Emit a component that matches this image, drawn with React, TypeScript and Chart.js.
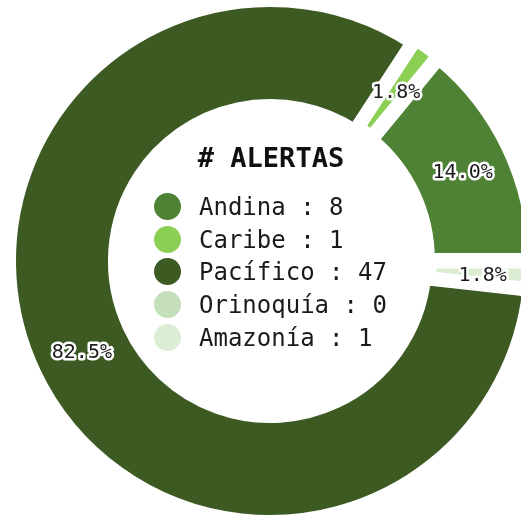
import React, { useEffect, useRef } from 'react';
import { Chart, registerables } from 'chart.js';

Chart.register(...registerables);

const categories = ['Andina', 'Caribe', 'Pacífico', 'Orinoquía', 'Amazonía'];
const alertCounts = [8, 1, 47, 0, 1];
const sliceColors = ['#4e8234', '#8ccf55', '#3c5a22', '#c4dfba', '#dcedd5'];
const sliceOffsets = [10, 10, 0, 10, 10];
const legendTitle = '# ALERTAS';

// slices run counter-clockwise in the picture, so feed them reversed
const drawOrder = [4, 3, 2, 1, 0];

const CX = 270;
const CY = 261;
const SIZE = 560;
const MONO = '"DejaVu Sans Mono", "Liberation Mono", monospace';

const pctLabels = {
  id: 'pctLabels',
  afterDatasetsDraw(chart: any) {
    const meta = chart.getDatasetMeta(0);
    const vals = chart.data.datasets[0].data as number[];
    const total = vals.reduce((a, b) => a + b, 0);
    const ctx = chart.ctx;
    ctx.save();
    ctx.font = '20px ' + MONO;
    ctx.textAlign = 'center';
    ctx.textBaseline = 'middle';
    ctx.lineJoin = 'round';
    meta.data.forEach((arc: any, i: number) => {
      const v = vals[i];
      if (!v) return;
      const p = arc.tooltipPosition(false);
      const txt = ((v / total) * 100).toFixed(1) + '%';
      ctx.lineWidth = 5;
      ctx.strokeStyle = '#ffffff';
      ctx.strokeText(txt, p.x, p.y + 3);
      ctx.fillStyle = '#1c1c1c';
      ctx.fillText(txt, p.x, p.y + 3);
    });
    ctx.restore();
  },
};

export default function App() {
  const canvasRef = useRef<HTMLCanvasElement | null>(null);

  useEffect(() => {
    if (!canvasRef.current) return;
    const chart = new Chart(canvasRef.current, {
      type: 'doughnut',
      data: {
        labels: drawOrder.map((i) => categories[i]),
        datasets: [
          {
            data: drawOrder.map((i) => alertCounts[i]),
            backgroundColor: drawOrder.map((i) => sliceColors[i]),
            offset: drawOrder.map((i) => sliceOffsets[i]),
            borderColor: '#ffffff',
            borderWidth: 14,
            hoverOffset: 0,
          },
        ],
      },
      options: {
        animation: false,
        responsive: false,
        rotation: 90,
        radius: 261,
        cutout: '59.4%',
        events: [],
        layout: { padding: 0 },
        plugins: {
          legend: { display: false },
          tooltip: { enabled: false },
        },
      } as any,
      plugins: [pctLabels],
    });
    return () => chart.destroy();
  }, []);

  const rowTop0 = 195;
  const rowStep = 32.7;

  return (
    <div
      style={{
        position: 'absolute',
        left: 0,
        top: 0,
        width: 521,
        height: 520,
        overflow: 'hidden',
        background: '#ffffff',
      }}
    >
      <canvas
        ref={canvasRef}
        width={SIZE}
        height={SIZE}
        style={{ position: 'absolute', left: CX - SIZE / 2, top: CY - SIZE / 2 }}
      />
      <div
        style={{
          position: 'absolute',
          left: 271 - 100,
          width: 200,
          top: 144,
          textAlign: 'center',
          fontFamily: MONO,
          fontWeight: 'bold',
          fontSize: 27,
          lineHeight: '27px',
          color: '#111',
          whiteSpace: 'pre',
        }}
      >
        {legendTitle}
      </div>
      {categories.map((name, i) => (
        <React.Fragment key={name}>
          <div
            style={{
              position: 'absolute',
              left: 167 - 13.5,
              top: rowTop0 + i * rowStep + 11.5 - 13.5,
              width: 27,
              height: 27,
              borderRadius: '50%',
              background: sliceColors[i],
            }}
          />
          <div
            style={{
              position: 'absolute',
              left: 199,
              top: rowTop0 + i * rowStep,
              fontFamily: MONO,
              fontSize: 24,
              lineHeight: '24px',
              color: '#1a1a1a',
              whiteSpace: 'pre',
            }}
          >
            {name + ' : ' + alertCounts[i]}
          </div>
        </React.Fragment>
      ))}
    </div>
  );
}
